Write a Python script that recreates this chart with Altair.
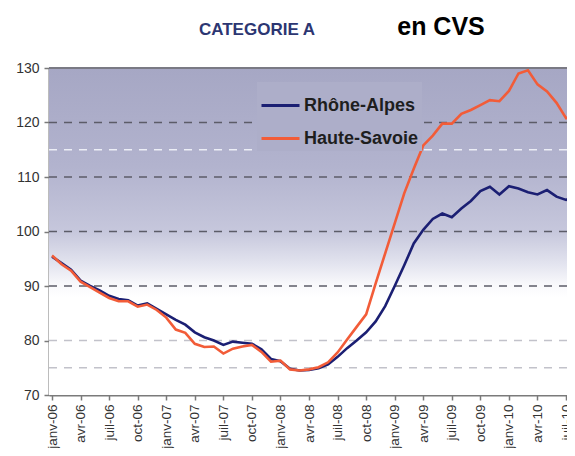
import altair as alt
import pandas as pd

# ---- data -------------------------------------------------------------
month_labels = [
    f"{m}-{y:02d}"
    for y in range(6, 11)
    for m in ["janv", "févr", "mars", "avr", "mai", "juin",
              "juil", "août", "sept", "oct", "nov", "déc"]
][:56]

tick_labels = ["janv-06", "avr-06", "juil-06", "oct-06",
               "janv-07", "avr-07", "juil-07", "oct-07",
               "janv-08", "avr-08", "juil-08", "oct-08",
               "janv-09", "avr-09", "juil-09", "oct-09",
               "janv-10", "avr-10", "juil-10"]

rhone_alpes = [95.4, 94.2, 93.0, 91.0, 90.0, 89.2, 88.2, 87.6, 87.4, 86.4,
               86.8, 85.8, 84.8, 83.8, 82.9, 81.5, 80.6, 80.0, 79.2, 79.8,
               79.6, 79.4, 78.4, 76.6, 76.2, 74.8, 74.5, 74.6, 74.9, 75.6,
               77.0, 78.6, 80.0, 81.5, 83.5, 86.3, 90.0, 93.8, 97.8, 100.3,
               102.3, 103.3, 102.6, 104.2, 105.6, 107.4, 108.2, 106.8, 108.3, 107.9,
               107.2, 106.8, 107.6, 106.4, 105.8, 106.5]

haute_savoie = [95.6, 94.0, 92.8, 90.8, 89.8, 88.8, 87.8, 87.2, 87.2, 86.2,
                86.6, 85.6, 84.2, 82.0, 81.4, 79.4, 78.8, 78.9, 77.6, 78.5,
                78.9, 79.2, 77.9, 76.1, 76.3, 74.7, 74.5, 74.7, 75.1, 76.0,
                77.8, 80.2, 82.5, 84.8, 90.5, 96.0, 101.5, 107.0, 111.5, 115.8,
                117.6, 119.8, 119.8, 121.6, 122.3, 123.2, 124.1, 123.9, 125.8, 129.0,
                129.6, 127.0, 125.7, 123.6, 120.8, 121.6]

series_names = ["Rhône-Alpes", "Haute-Savoie"]
series_colors = ["#1b1f73", "#f25c38"]

major_grid = [90, 100, 110, 120]
soft_grid = [75, 80]
pale_grid = [115]
top_value = [130]

title_left = ["CATEGORIE A"]
title_right = ["en CVS"]

# ---- tables -----------------------------------------------------------
n = len(rhone_alpes)
df = pd.DataFrame({
    "idx": list(range(n)) * 2,
    "mois": month_labels[:n] * 2,
    "value": rhone_alpes + haute_savoie,
    "series": [series_names[0]] * n + [series_names[1]] * n,
})

W, H = 518, 327
FONT = "Liberation Sans"

x_scale = alt.Scale(domain=[-0.32, 54.1], nice=False, zero=False)
y_scale = alt.Scale(domain=[70, 130], nice=False, zero=False)

label_array = "[" + ",".join(f"'{t}'" for t in tick_labels) + "]"

# background gradient
bg = alt.Chart(pd.DataFrame({"a": [0]})).mark_rect(
    fill=alt.Gradient(
        gradient="linear",
        stops=[
            alt.GradientStop(color="#a6a7c4", offset=0),
            alt.GradientStop(color="#b2b3ce", offset=0.3),
            alt.GradientStop(color="#c6c7dc", offset=0.5),
            alt.GradientStop(color="#e3e4ef", offset=0.6),
            alt.GradientStop(color="#f8f8fb", offset=0.66),
            alt.GradientStop(color="#ffffff", offset=0.7),
            alt.GradientStop(color="#ffffff", offset=1),
        ],
        x1=0, x2=0, y1=0, y2=1,
    )
).encode(x=alt.value(0), x2=alt.value(W), y=alt.value(0), y2=alt.value(H))

def rules(vals, color, dash, width=1.5):
    return alt.Chart(pd.DataFrame({"v": vals})).mark_rule(
        color=color, strokeDash=dash, strokeWidth=width
    ).encode(y=alt.Y("v:Q", scale=y_scale))

g_major = rules(major_grid, "#5c5c68", [8, 7])
g_soft = rules(soft_grid, "#c2c2ca", [8, 7])
g_pale = rules(pale_grid, "#eceef6", [8, 7])
g_top = rules(top_value, "#7a7a84", [], 2)

lines = alt.Chart(df).mark_line(strokeWidth=2.6, clip=True).encode(
    x=alt.X("idx:Q", scale=x_scale,
            axis=alt.Axis(values=list(range(0, 55, 3)),
                          labelExpr=f"{label_array}[datum.value/3]",
                          labelAngle=270, labelAlign="right", labelBaseline="middle",
                          labelFontSize=13.5, labelColor="#333333", labelFont=FONT,
                          labelPadding=4, tickSize=5, tickColor="#7a7a7a", tickWidth=1.5,
                          domainColor="#7a7a7a", domainWidth=2, grid=False, title=None,
                          labelOverlap=False)),
    y=alt.Y("value:Q", scale=y_scale,
            axis=alt.Axis(values=[70, 80, 90, 100, 110, 120, 130],
                          labelFontSize=14, labelColor="#333333", labelFont=FONT,
                          labelPadding=5, tickSize=5, tickColor="#7a7a7a", tickWidth=1.5,
                          domainColor="#7a7a7a", domainWidth=2, grid=False, title=None)),
    color=alt.Color("series:N",
                    scale=alt.Scale(domain=series_names, range=series_colors),
                    legend=alt.Legend(title=None, orient="none", legendX=208, legendY=14,
                                      symbolType="stroke", symbolSize=1444,
                                      symbolStrokeWidth=3, labelFontSize=18,
                                      labelFontWeight="bold", labelFont=FONT,
                                      labelColor="#1e1e1e", labelOffset=3,
                                      rowPadding=3, padding=3,
                                      fillColor="#adaec9")),
    order="idx:Q",
)

t_left = alt.Chart(pd.DataFrame({"t": title_left})).mark_text(
    font=FONT, fontSize=17, fontWeight="bold", color="#2c3672", align="center", baseline="middle"
).encode(text="t:N", x=alt.value(208), y=alt.value(-38))

t_right = alt.Chart(pd.DataFrame({"t": title_right})).mark_text(
    font=FONT, fontSize=25, fontWeight="bold", color="#000000", align="center", baseline="middle"
).encode(text="t:N", x=alt.value(392), y=alt.value(-41))

chart = alt.layer(bg, g_soft, g_pale, g_major, g_top, lines, t_left, t_right).properties(
    width=W, height=H,
    autosize=alt.AutoSizeParams(type="none"),
    padding={"left": 41, "top": 60, "right": 0, "bottom": 53},
).configure_view(stroke=None)

chart.save("out.html", embed_options={"renderer": "svg", "actions": False})
